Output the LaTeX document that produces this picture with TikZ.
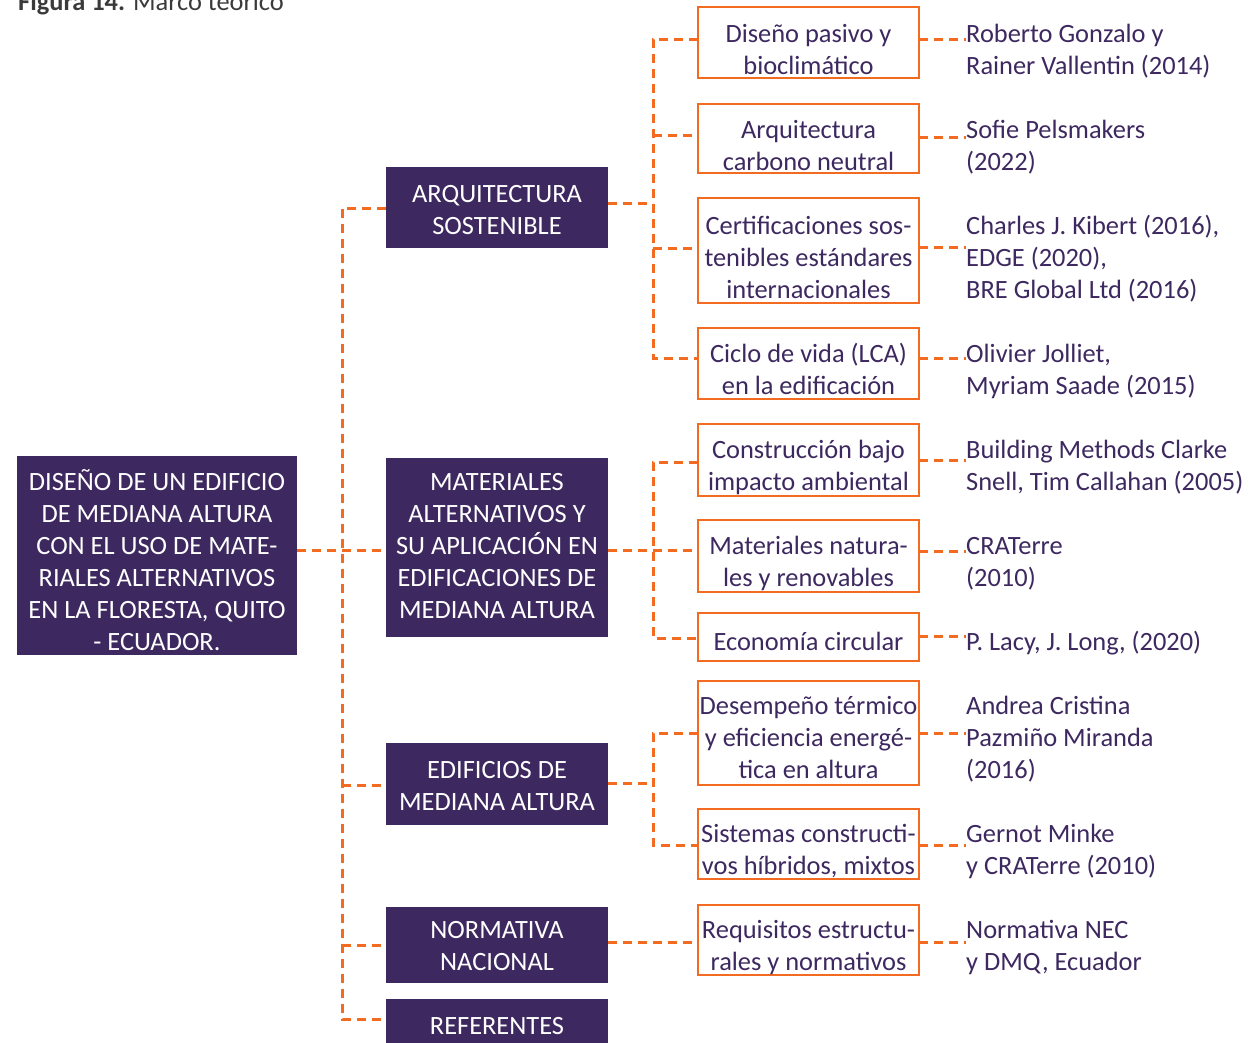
\documentclass[tikz,border=0pt]{standalone}
\usepackage{fontspec}
\setmainfont{Carlito}
\definecolor{pur}{HTML}{3D2960}
\definecolor{org}{HTML}{F26B21}
\definecolor{ttl}{HTML}{3A3A3A}
\newcommand{\ctab}[1]{\begin{tabular}[t]{@{}c@{}}#1\end{tabular}}
\newcommand{\ltab}[1]{\begin{tabular}[t]{@{}l@{}}#1\end{tabular}}
\begin{document}
\begin{tikzpicture}[x=1pt,y=-1pt,
  mainbox/.style={fill=pur, draw=none, inner sep=0pt, outer sep=0pt, anchor=north west},
  subbox/.style={draw=org, line width=2.4pt, fill=white, inner sep=0pt, outer sep=0pt, anchor=north west},
  wtxt/.style={text=white, font=\fontsize{26.4}{32}\selectfont, inner sep=0pt, anchor=base},
  ptxt/.style={text=pur, font=\fontsize{26.4}{32}\selectfont, inner sep=0pt, anchor=base},
  rtxt/.style={text=pur, font=\fontsize{26.4}{32}\selectfont, inner sep=0pt, anchor=base west},
  conn/.style={draw=org, line width=3pt, dash pattern=on 9pt off 6pt},
]
\clip (0,0) rectangle (1249,1042);
\fill[white] (0,0) rectangle (1249,1042);

% title
\node[anchor=base west, inner sep=0pt, text=ttl, font=\fontsize{26.4}{32}\selectfont] (title) at (18,10) {\textbf{Figura 14.} Marco teórico};

% main boxes
\node[mainbox, minimum width=280pt, minimum height=199pt] (root) at (17,456) {};
\node[mainbox, minimum width=222pt, minimum height=81pt] (arq) at (386,167) {};
\node[mainbox, minimum width=222pt, minimum height=179pt] (mat) at (386,458) {};
\node[mainbox, minimum width=222pt, minimum height=82pt] (edi) at (386,743) {};
\node[mainbox, minimum width=222pt, minimum height=76pt] (nor) at (386,907) {};
\node[mainbox, minimum width=222pt, minimum height=60pt] (ref) at (386,999) {};

% sub boxes
\node[subbox, minimum width=221pt, minimum height=71pt] (b1) at (698,7) {};
\node[subbox, minimum width=221pt, minimum height=69pt] (b2) at (698,104) {};
\node[subbox, minimum width=221pt, minimum height=105pt] (b3) at (698,198) {};
\node[subbox, minimum width=221pt, minimum height=71pt] (b4) at (698,328) {};
\node[subbox, minimum width=221pt, minimum height=72pt] (b5) at (698,424) {};
\node[subbox, minimum width=221pt, minimum height=72pt] (b6) at (698,520) {};
\node[subbox, minimum width=221pt, minimum height=48pt] (b7) at (698,613) {};
\node[subbox, minimum width=221pt, minimum height=104pt] (b8) at (698,681) {};
\node[subbox, minimum width=221pt, minimum height=70pt] (b9) at (698,809) {};
\node[subbox, minimum width=221pt, minimum height=70pt] (b10) at (698,905) {};

% texts in main boxes
\node[wtxt] (troot) at (157,490.5) {\ctab{DISEÑO DE UN EDIFICIO\\ DE MEDIANA ALTURA\\ CON EL USO DE MATE-\\ RIALES ALTERNATIVOS\\ EN LA FLORESTA, QUITO\\ - ECUADOR.}};
\node[wtxt] (tarq) at (497,202.5) {\ctab{ARQUITECTURA\\ SOSTENIBLE}};
\node[wtxt] (tmat) at (497,490.5) {\ctab{MATERIALES\\ ALTERNATIVOS Y\\ SU APLICACIÓN EN\\ EDIFICACIONES DE\\ MEDIANA ALTURA}};
\node[wtxt] (tedi) at (497,778.5) {\ctab{EDIFICIOS DE\\ MEDIANA ALTURA}};
\node[wtxt] (tnor) at (497,938.5) {\ctab{NORMATIVA\\ NACIONAL}};
\node[wtxt] (tref) at (497,1034.5) {REFERENTES};

% texts in sub boxes
\node[ptxt] (tb1) at (808.5,42.5) {\ctab{Diseño pasivo y\\ bioclimático}};
\node[ptxt] (tb2) at (808.5,138.5) {\ctab{Arquitectura\\ carbono neutral}};
\node[ptxt] (tb3) at (808.5,234.5) {\ctab{Certificaciones sos-\\ tenibles estándares\\ internacionales}};
\node[ptxt] (tb4) at (808.5,362.5) {\ctab{Ciclo de vida (LCA)\\ en la edificación}};
\node[ptxt] (tb5) at (808.5,458.5) {\ctab{Construcción bajo\\ impacto ambiental}};
\node[ptxt] (tb6) at (808.5,554.5) {\ctab{Materiales natura-\\ les y renovables}};
\node[ptxt] (tb7) at (808.5,650.5) {Economía circular};
\node[ptxt] (tb8) at (808.5,714.5) {\ctab{Desempeño térmico\\ y eficiencia energé-\\ tica en altura}};
\node[ptxt] (tb9) at (808.5,842.5) {\ctab{Sistemas constructi-\\ vos híbridos, mixtos}};
\node[ptxt] (tb10) at (808.5,938.5) {\ctab{Requisitos estructu-\\ rales y normativos}};

% references
\node[rtxt] (r1) at (966,42.5) {\ltab{Roberto Gonzalo y\\ Rainer Vallentin (2014)}};
\node[rtxt] (r2) at (966,138.5) {\ltab{Sofie Pelsmakers\\ (2022)}};
\node[rtxt] (r3) at (966,234.5) {\ltab{Charles J. Kibert (2016),\\ EDGE (2020),\\ BRE Global Ltd (2016)}};
\node[rtxt] (r4) at (966,362.5) {\ltab{Olivier Jolliet,\\ Myriam Saade (2015)}};
\node[rtxt] (r5) at (966,458.5) {\ltab{Building Methods Clarke\\ Snell, Tim Callahan (2005)}};
\node[rtxt] (r6) at (966,554.5) {\ltab{CRATerre\\ (2010)}};
\node[rtxt] (r7) at (966,650.5) {P. Lacy, J. Long, (2020)};
\node[rtxt] (r8) at (966,714.5) {\ltab{Andrea Cristina\\ Pazmiño Miranda\\ (2016)}};
\node[rtxt] (r9) at (966,842.5) {\ltab{Gernot Minke\\ y CRATerre (2010)}};
\node[rtxt] (r10) at (966,938.5) {\ltab{Normativa NEC\\ y DMQ, Ecuador}};

% spine coordinates
\coordinate (s1a) at (342,208);
\coordinate (s1b) at (342,1019);
\coordinate (yroot) at (0,550);
\coordinate (s2a) at (653,39);
\coordinate (s2b) at (653,358);
\coordinate (s3a) at (653,462);
\coordinate (s3b) at (653,638);
\coordinate (s4a) at (653,733);
\coordinate (s4b) at (653,845);

% level 1 connectors
\draw[conn] (arq.west |- s1a) -- (s1a) -- (s1b) -- (ref.west |- s1b);
\draw[conn] (root.east |- yroot) -- (mat.west |- yroot);
\draw[conn] (s1a |- 0,785) -- (edi.west |- 0,785);
\draw[conn] (s1a |- 0,945) -- (nor.west |- 0,945);

% group 1
\draw[conn] (arq.east |- 0,203) -- (s2a |- 0,203);
\draw[conn] (b1.west |- s2a) -- (s2a) -- (s2b) -- (b4.west |- s2b);
\draw[conn] (s2a |- 0,135) -- (b2.west |- 0,135);
\draw[conn] (s2a |- 0,248) -- (b3.west |- 0,248);
% group 2
\draw[conn] (mat.east |- yroot) -- (b6.west |- yroot);
\draw[conn] (b5.west |- s3a) -- (s3a) -- (s3b) -- (b7.west |- s3b);
% group 3
\draw[conn] (edi.east |- 0,783) -- (s4a |- 0,783);
\draw[conn] (b8.west |- s4a) -- (s4a) -- (s4b) -- (b9.west |- s4b);
% group 4
\draw[conn] (nor.east |- 0,942) -- (b10.west |- 0,942);

% reference connectors
\draw[conn] (b1.east |- 0,39) -- (r1.west |- 0,39);
\draw[conn] (b2.east |- 0,137) -- (r2.west |- 0,137);
\draw[conn] (b3.east |- 0,247) -- (r3.west |- 0,247);
\draw[conn] (b4.east |- 0,358) -- (r4.west |- 0,358);
\draw[conn] (b5.east |- 0,460) -- (r5.west |- 0,460);
\draw[conn] (b6.east |- 0,551) -- (r6.west |- 0,551);
\draw[conn] (b7.east |- 0,636) -- (r7.west |- 0,636);
\draw[conn] (b8.east |- 0,733) -- (r8.west |- 0,733);
\draw[conn] (b9.east |- 0,845) -- (r9.west |- 0,845);
\draw[conn] (b10.east |- 0,942) -- (r10.west |- 0,942);
\end{tikzpicture}
\end{document}
